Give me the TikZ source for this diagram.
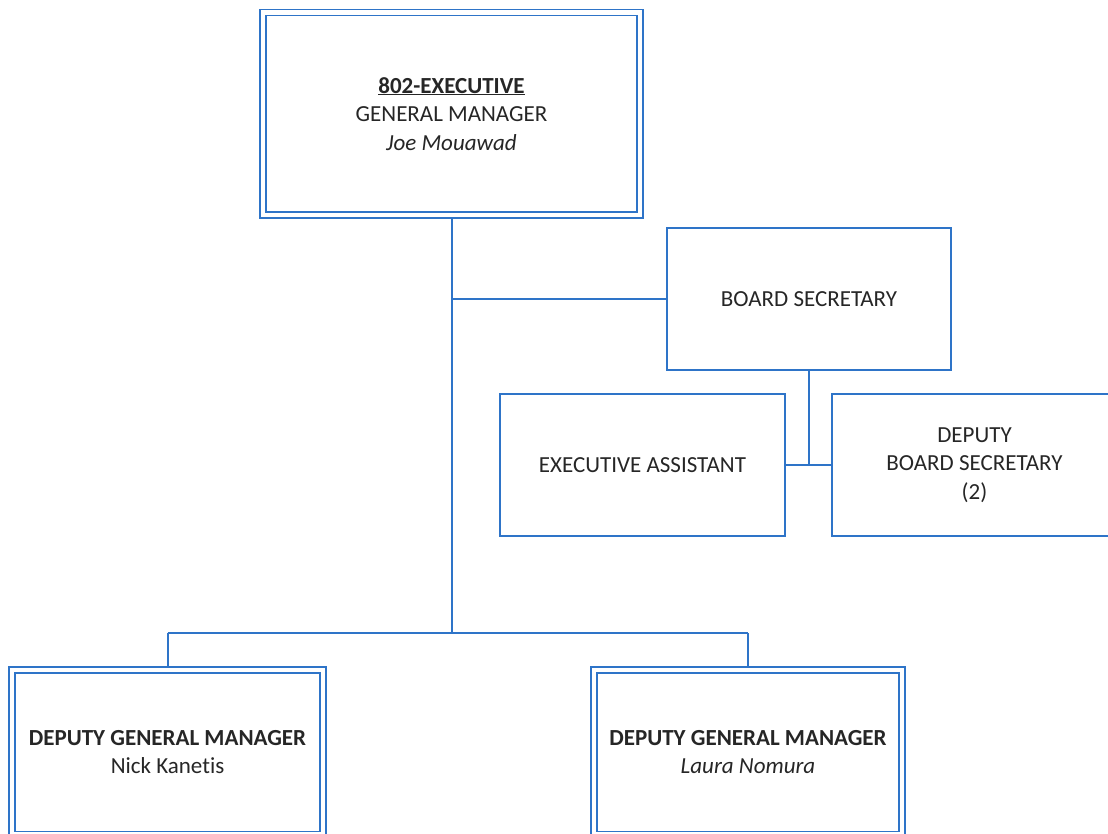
\documentclass[tikz,border=0pt]{standalone}
\usepackage{fontspec}
\setmainfont{Carlito}[Ligatures=NoCommon]
\usetikzlibrary{backgrounds}
\definecolor{orgblue}{RGB}{46,116,200}
\begin{document}
\begin{tikzpicture}[x=1pt,y=-1pt,
  txt/.style={align=center, font=\fontsize{23}{28.5}\selectfont, text=black!85},
  sbox/.style={txt, rectangle, draw=orgblue, line width=2pt, fill=white, inner sep=0pt},
  dbox/.style={txt, rectangle, draw=orgblue, double=white, double distance=4.4pt, line width=1.6pt, inner sep=0pt},
  link/.style={draw=orgblue, line width=2pt}]
\useasboundingbox (0,0) rectangle (1108,834);
\clip (0,0) rectangle (1108,834);
% nodes
\node[dbox, minimum width=377pt, minimum height=202.5pt] (gm) at (451.5,113.75)
  {\textbf{\underline{802-EXECUTIVE}}\\GENERAL MANAGER\\\textit{Joe Mouawad}};
\node[sbox, minimum width=284pt, minimum height=142pt] (bs) at (809,299) {BOARD SECRETARY};
\node[sbox, minimum width=285pt, minimum height=142pt] (ea) at (642.5,465) {EXECUTIVE ASSISTANT};
\node[sbox, minimum width=285pt, minimum height=142pt] (dbs) at (974.5,465) {DEPUTY\\BOARD SECRETARY\\(2)};
\node[dbox, minimum width=311pt, minimum height=164.5pt] (dgm1) at (167.5,752.25)
  {\textbf{DEPUTY GENERAL MANAGER}\\Nick Kanetis};
\node[dbox, minimum width=308pt, minimum height=164.5pt] (dgm2) at (748,752.25)
  {\textbf{DEPUTY GENERAL MANAGER}\\\textit{Laura Nomura}};
\coordinate (bus) at (451.5,633);
% connectors
\begin{pgfonlayer}{background}
\draw[link] (gm.south) -- (bus);
\draw[link] (gm.south |- bs.west) -- (bs.west);
\draw[link] (dgm1.north |- bus) -- (dgm2.north |- bus);
\draw[link] (dgm1.north |- bus) -- (dgm1.north);
\draw[link] (dgm2.north |- bus) -- (dgm2.north);
\draw[link] (bs.south) -- (bs.south |- ea.east);
\draw[link] (ea.east) -- (dbs.west);
\end{pgfonlayer}
\end{tikzpicture}
\end{document}
